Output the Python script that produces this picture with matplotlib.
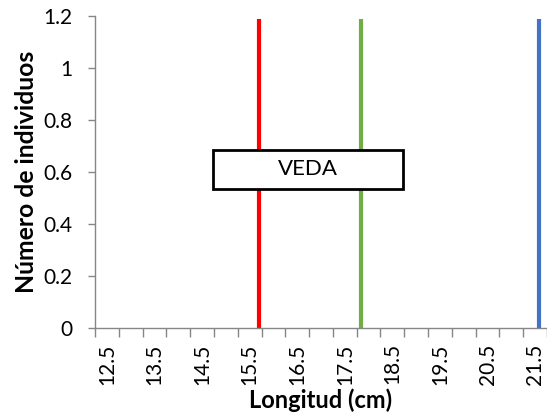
import matplotlib
matplotlib.use("Agg")
from matplotlib import pyplot as plt
from matplotlib.patches import Rectangle
import numpy as np

# categories on the x axis (bins of 0.5 cm, labelled every 1 cm)
bins = np.arange(12.5, 21.75, 0.5)
tick_labels = ["12.5", "13.5", "14.5", "15.5", "16.5", "17.5", "18.5", "19.5", "20.5", "21.5"]

# vertical reference lines
line_x = [15.7, 17.84, 21.58]
line_top = [1.19, 1.19, 1.19]
line_colors = ["#ff0000", "#70ad47", "#4472c4"]

y_ticks = [0, 0.2, 0.4, 0.6, 0.8, 1.0, 1.2]
y_labels = ["0", "0.2", "0.4", "0.6", "0.8", "1", "1.2"]

plt.rcParams['font.family'] = ['Lato', 'DejaVu Sans']

fig = plt.figure(figsize=(5.47, 4.18), dpi=100)
ax = fig.add_axes([95 / 547, 90 / 418, 452 / 547, 312 / 418])

for x, top, c in zip(line_x, line_top, line_colors):
    ax.plot([x, x], [0, top], color=c, lw=3, solid_capstyle='butt', zorder=2)

ax.set_xlim(bins[0] - 0.25, bins[-1] + 0.25)
ax.set_ylim(0, 1.2)

# tick marks at the bin edges, labels at every other bin centre
edges = np.append(bins - 0.25, bins[-1] + 0.25)
ax.set_xticks(edges)
ax.set_xticklabels([])
ax.set_xticks(bins[::2], minor=True)
ax.set_xticklabels(tick_labels, minor=True, rotation=90, fontsize=15)
ax.tick_params(axis='x', which='major', length=6.5, color='#868686', width=1)
ax.tick_params(axis='x', which='minor', length=0, pad=11)

ax.set_yticks(y_ticks)
ax.set_yticklabels(y_labels, fontsize=15)
ax.tick_params(axis='y', length=5, color='#868686', width=1, pad=11)

for s in ['top', 'right']:
    ax.spines[s].set_visible(False)
for s in ['left', 'bottom']:
    ax.spines[s].set_color('#868686')
    ax.spines[s].set_linewidth(1)

ax.set_xlabel("Longitud (cm)", fontsize=17, fontweight='bold', labelpad=3)
ax.set_ylabel("Número de individuos", fontsize=17.8, fontweight='bold', labelpad=4)

# "VEDA" text box
ax.add_patch(Rectangle((14.73, 0.535), 18.72 - 14.73, 0.685 - 0.535,
                       fc='white', ec='black', lw=2, zorder=3))
ax.text(16.73, 0.61, "VEDA", fontsize=16, ha='center', va='center', zorder=4)

fig.savefig("out.png", dpi=100)
